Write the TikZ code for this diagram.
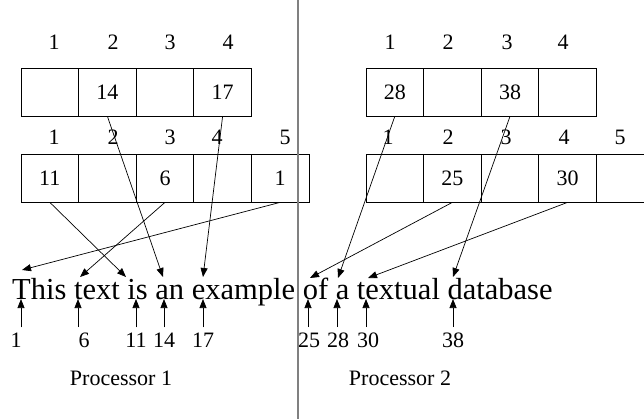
\documentclass[tikz,border=0pt]{standalone}
\usepackage{fontspec}
\setmainfont{Liberation Serif}
\usetikzlibrary{arrows.meta,positioning}

\begin{document}
\begin{tikzpicture}[
    x=1pt, y=-1pt,
    >={Triangle[length=9pt,width=7pt]},
    % Define styles
    cell/.style={rectangle, draw=black, line width=0.7pt, minimum width=57.6pt, minimum height=48pt, inner sep=0pt, font=\fontsize{22}{24}\selectfont},
    idx/.style={inner sep=0pt, font=\fontsize{22}{24}\selectfont},
    posnum/.style={inner sep=0pt, anchor=base, font=\fontsize{22}{24}\selectfont},
    ptr/.style={->, line width=0.7pt},
    divider/.style={draw=gray, line width=1.2pt}
]
\useasboundingbox (0,0) rectangle (644,419);

% Processor 1 arrays
\foreach \v [count=\i] in {{},14,{},17}
  \node[cell] (a\i) at ({21+57.6*(\i-0.5)},92) {\v};
\foreach \v [count=\i] in {11,{},6,{},1}
  \node[cell] (b\i) at ({21+57.6*(\i-0.5)},178) {\v};

% Processor 2 arrays
\foreach \v [count=\i] in {28,{},38,{}}
  \node[cell] (c\i) at ({366+57.6*(\i-0.5)},92) {\v};
\foreach \v [count=\i] in {{},25,{},30,{}}
  \node[cell] (d\i) at ({366+57.6*(\i-0.5)},178) {\v};

% Slot numbers
\foreach \x [count=\i] in {54,113,170,228}
  \node[idx] (ia\i) at (\x,42) {\i};
\foreach \x [count=\i] in {54,113,170,217,285}
  \node[idx] (ib\i) at (\x,137) {\i};
\foreach \x [count=\i] in {390,448,507,563}
  \node[idx] (ic\i) at (\x,42) {\i};
\foreach \x [count=\i] in {388,448,506,564,620}
  \node[idx] (id\i) at (\x,137) {\i};

% Divider between processors
\coordinate (top) at (298,0);
\coordinate (bottom) at (298,419);
\draw[divider] (top) -- (bottom);

% Text
\node[anchor=base west, inner sep=0pt, font=\fontsize{30.5}{32}\selectfont] (line) at (12,299) {This text is an example of a textual database};

% Targets above the text
\coordinate (w1) at (22,270);
\coordinate (w6) at (80,277);
\coordinate (w11) at (126,277);
\coordinate (w14) at (163,277);
\coordinate (w17) at (203,277);
\coordinate (w25) at (310,278);
\coordinate (w28) at (338,278);
\coordinate (w30) at (368,278);
\coordinate (w38) at (453,277);

% Positions below the text
\foreach \n/\x/\y in {1/16/21,6/84/78,11/136/136,14/164/164,17/203/203,25/309/308,28/338/337,30/368/366,38/453/453} {
  \node[posnum] (m\n) at (\x,347) {\n};
  \coordinate (u\n) at (\y,299);
  \draw[ptr, shorten <=5pt] (u\n |- m\n.north) -- (u\n);
}

% Pointers from the arrays
\draw[ptr] (b5.south) -- (w1);
\draw[ptr] (b3.south) -- (w6);
\draw[ptr] (b1.south) -- (w11);
\draw[ptr] (a2.south) -- (w14);
\draw[ptr] (a4.south) -- (w17);
\draw[ptr] (d2.south) -- (w25);
\draw[ptr] (c1.south) -- (w28);
\draw[ptr] (d4.south) -- (w30);
\draw[ptr] (c3.south) -- (w38);

% Labels
\node[idx] (p1) at (121,378) {Processor 1};
\node[idx] (p2) at (400,378) {Processor 2};

\end{tikzpicture}
\end{document}
